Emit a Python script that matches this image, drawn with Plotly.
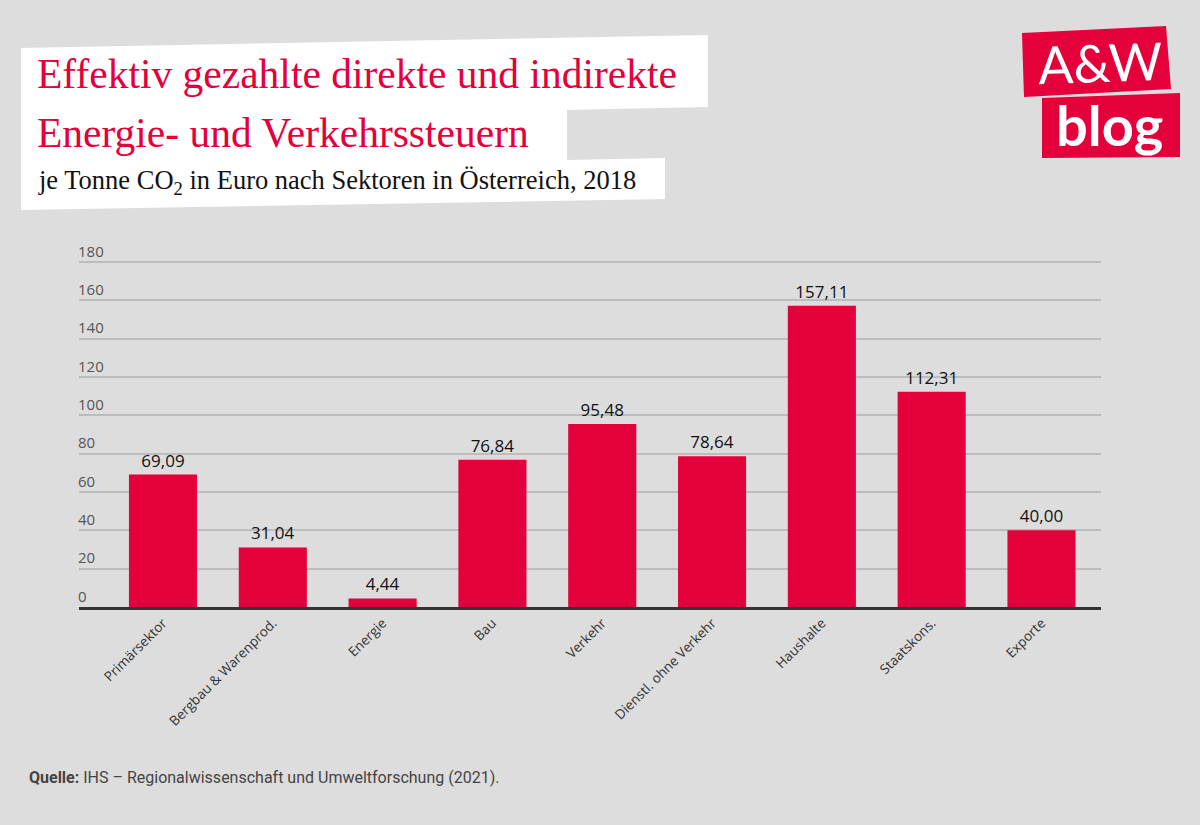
import plotly.graph_objects as go

categories = ["Primärsektor", "Bergbau & Warenprod.", "Energie", "Bau", "Verkehr",
              "Dienstl. ohne Verkehr", "Haushalte", "Staatskons.", "Exporte"]
values = [69.09, 31.04, 4.44, 76.84, 95.48, 78.64, 157.11, 112.31, 40.00]
y_ticks = [0, 20, 40, 60, 80, 100, 120, 140, 160, 180]

W, H = 1200, 825
L, R, T, B = 79, 99, 245, 218
PW, PH = W - L - R, H - T - B

def px(x):
    return (x - L) / PW

def py(y):
    return (H - B - y) / PH

def path(points):
    s = "M " + " L ".join(f"{px(x):.5f},{py(y):.5f}" for x, y in points) + " Z"
    return s

RED = "#e4003a"
BG = "#dddddd"

fig = go.Figure()
fig.add_trace(go.Bar(
    x=categories, y=values,
    marker=dict(color=RED, line=dict(width=0)),
    width=0.62,
    texttemplate="%{y:.2f}", textposition="outside",
    textfont=dict(family="Open Sans", size=17, color="#111111"),
    cliponaxis=False,
    hoverinfo="skip",
))

shapes = []
# white title background (slightly tilted)
shapes.append(dict(type="path", xref="paper", yref="paper", layer="below",
                   path=path([(21, 48), (708, 35), (708, 107), (567, 110), (567, 160),
                              (665, 158), (665, 199), (21, 210)]),
                   fillcolor="white", line=dict(width=0)))
# logo boxes
shapes.append(dict(type="path", xref="paper", yref="paper",
                   path=path([(1022, 33), (1166, 26), (1171, 89), (1024, 97)]),
                   fillcolor=RED, line=dict(width=0)))
shapes.append(dict(type="path", xref="paper", yref="paper",
                   path=path([(1042, 98), (1180, 93), (1180, 157), (1042, 158)]),
                   fillcolor=RED, line=dict(width=0)))

TITLE_FONT = "Liberation Serif"
annotations = [
    dict(text="Effektiv gezahlte direkte und indirekte", x=px(35), y=py(74),
         xanchor="left", yanchor="middle",
         font=dict(family=TITLE_FONT, size=41.5, color=RED)),
    dict(text="Energie- und Verkehrssteuern", x=px(35), y=py(133),
         xanchor="left", yanchor="middle",
         font=dict(family=TITLE_FONT, size=41.5, color=RED)),
    dict(text="je Tonne CO<sub>2</sub> in Euro nach Sektoren in Österreich, 2018", x=px(36), y=py(182),
         xanchor="left", yanchor="middle",
         font=dict(family=TITLE_FONT, size=26.5, color="#111111")),
    dict(text="A&W", x=px(1100), y=py(62), xanchor="center", yanchor="middle",
         textangle=-2,
         font=dict(family="Lato", size=52, color="white")),
    dict(text="<b>blog</b>", x=px(1109), y=py(124), xanchor="center", yanchor="middle",
         font=dict(family="Lato", size=56, color="white")),
    dict(text="<b>Quelle:</b> IHS – Regionalwissenschaft und Umweltforschung (2021).",
         x=px(27), y=py(777), xanchor="left", yanchor="middle",
         font=dict(family="Roboto", size=16, color="#444444")),
]

for a in annotations:
    a.update(xref="paper", yref="paper", showarrow=False)

fig.update_layout(
    width=W, height=H,
    margin=dict(l=L, r=R, t=T, b=B),
    paper_bgcolor=BG, plot_bgcolor=BG,
    separators=",.",
    showlegend=False,
    bargap=0.38,
    shapes=shapes,
    annotations=annotations,
    xaxis=dict(
        range=[-0.765, 8.542],
        tickangle=-45,
        tickfont=dict(family="Open Sans", size=13.5, color="#333333"),
        showline=True, linecolor="#333333", linewidth=3,
        showgrid=False, ticks="", fixedrange=True,
    ),
    yaxis=dict(
        range=[0, 188.8],
        tickvals=y_ticks,
        ticklabelposition="inside top",
        ticklabeloverflow="allow",
        ticklabelstandoff=-4,
        tickfont=dict(family="Open Sans", size=15, color="#555555"),
        showgrid=True, gridcolor="#bcbcbc", gridwidth=2,
        zeroline=False, showline=False, ticks="", fixedrange=True,
    ),
)

fig.write_html("out.html", config={"displayModeBar": False},
               post_script="document.body.style.margin='0';document.body.style.padding='0';")
